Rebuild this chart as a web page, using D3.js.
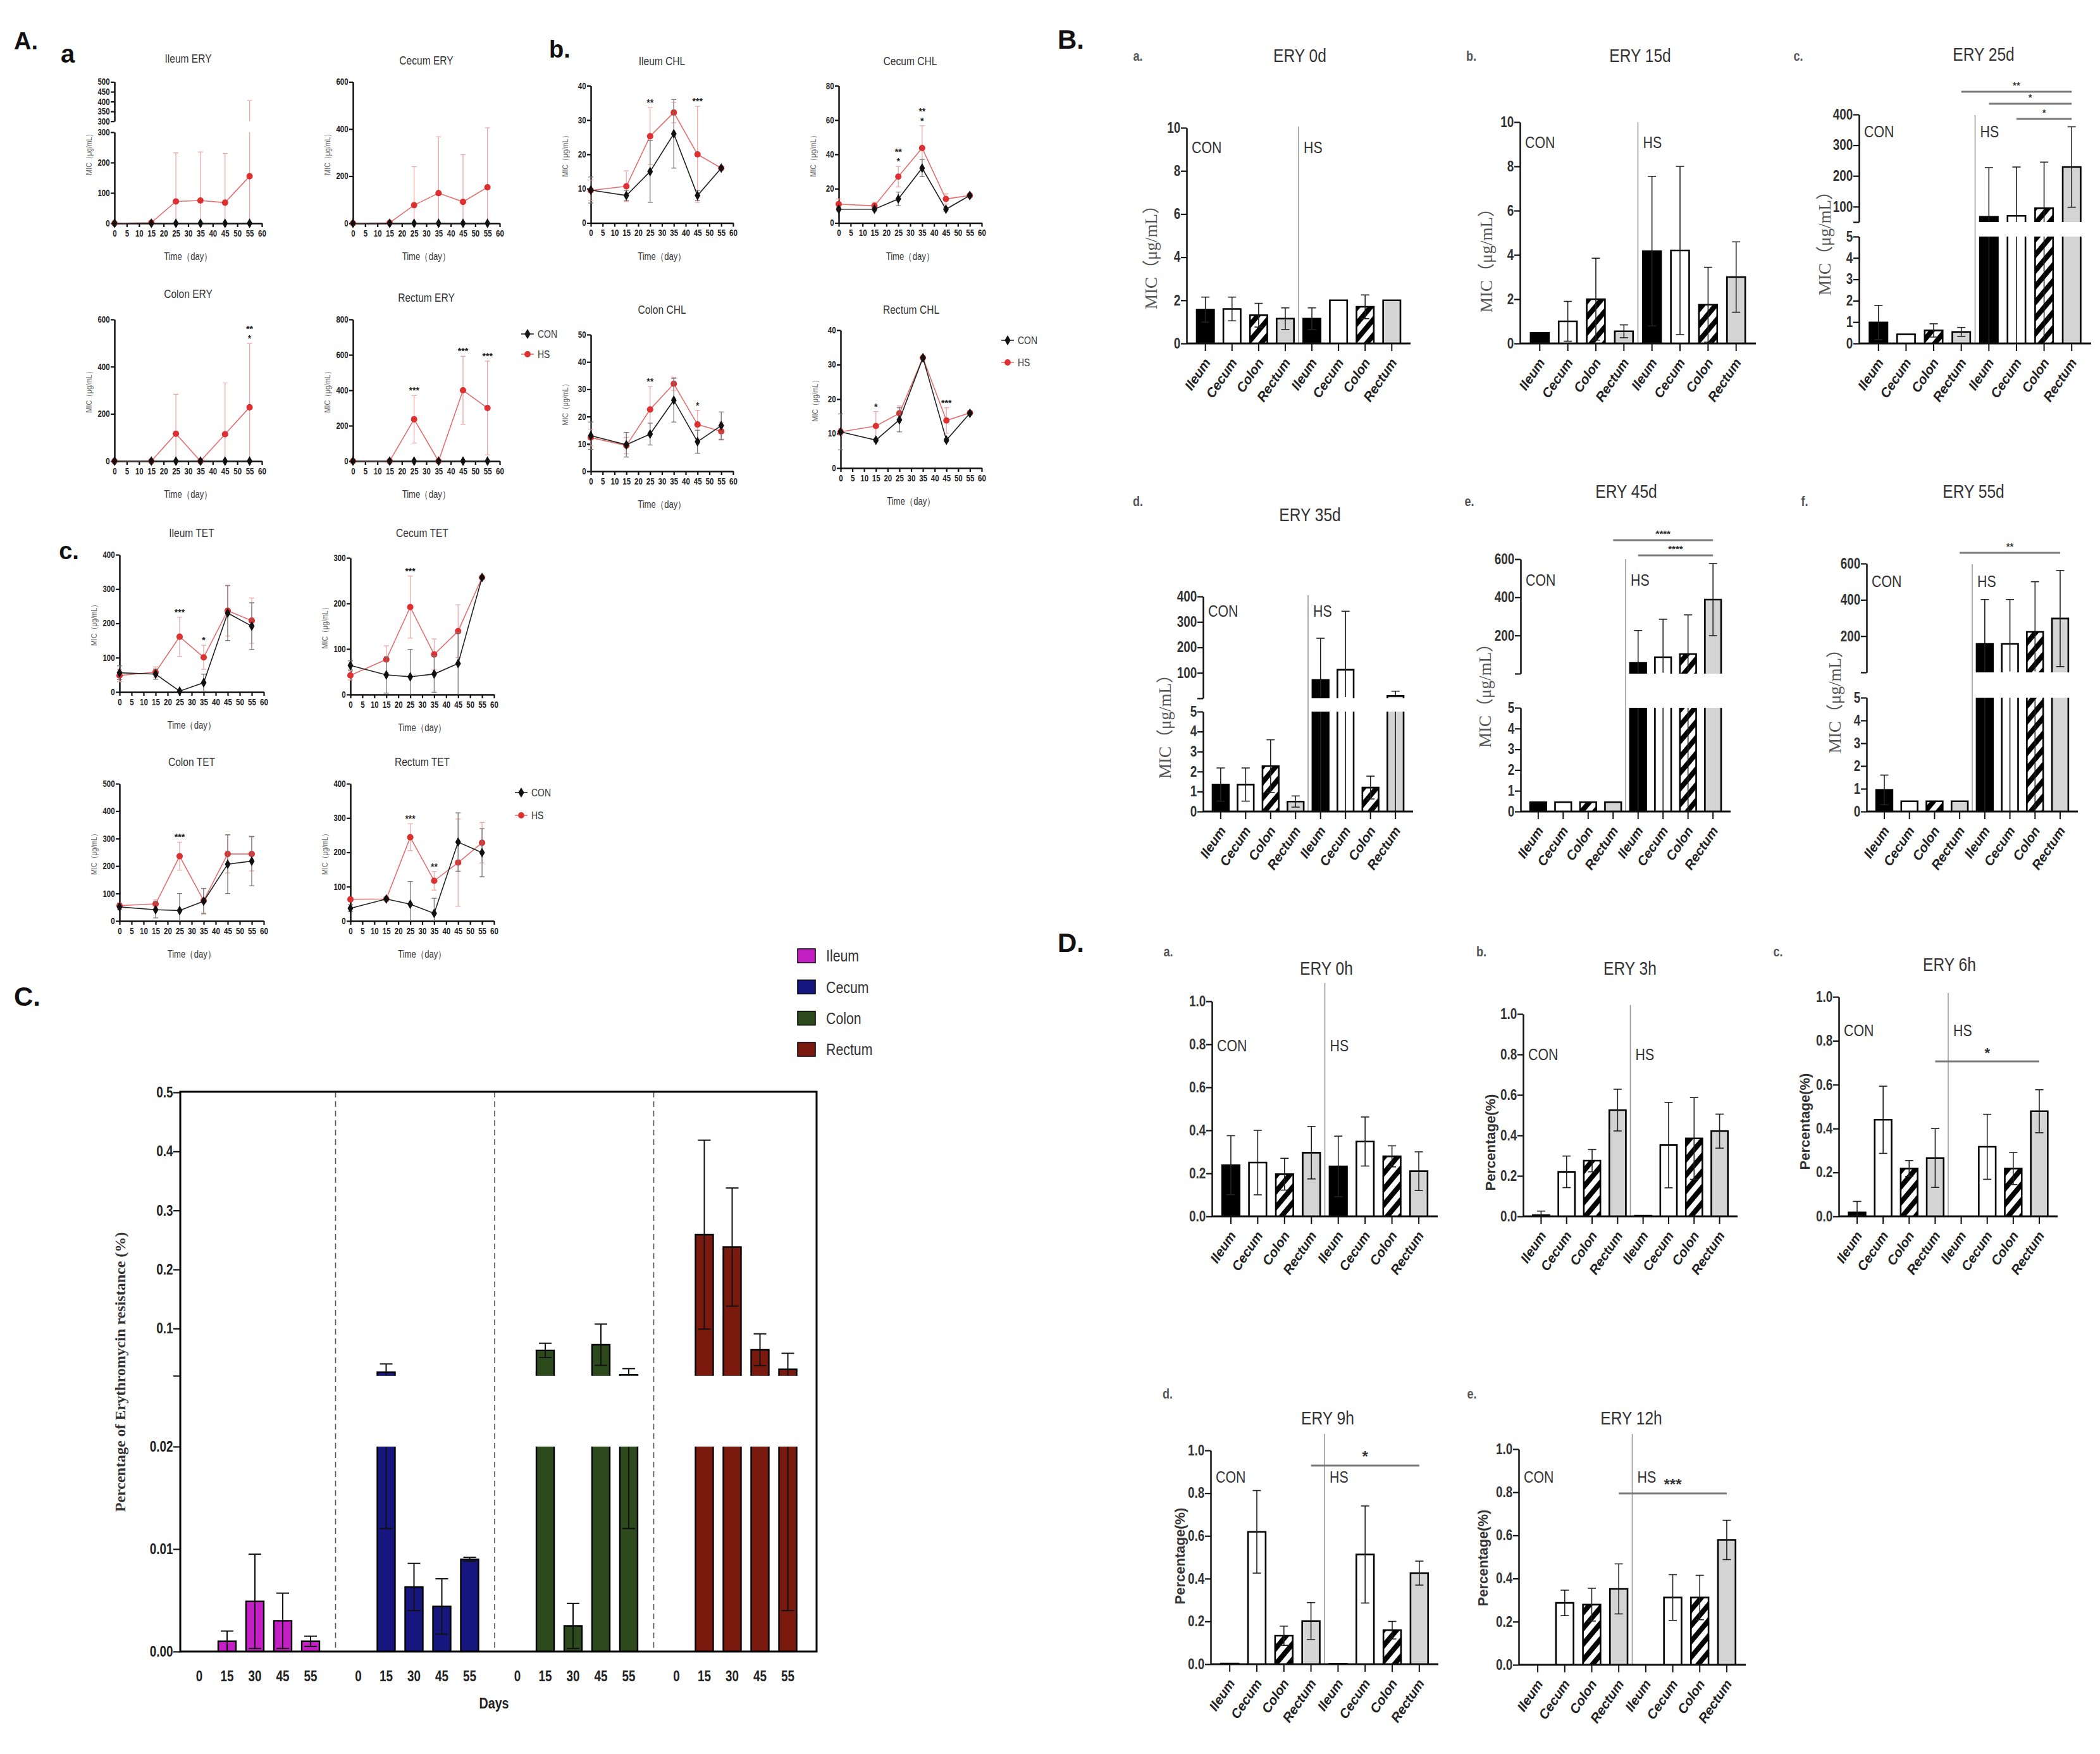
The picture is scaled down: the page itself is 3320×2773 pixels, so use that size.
<!DOCTYPE html>
<html lang="en">
<head>
<meta charset="utf-8">
<script src="https://d3js.org/d3.v7.min.js"></script>
<style>body{margin:0;background:#fff}</style>
</head>
<body>
<script>
// ---------- data ----------
const days = [0, 15, 25, 35, 45, 55];
const dayTicks = [0, 5, 10, 15, 20, 25, 30, 35, 40, 45, 50, 55, 60];

// A.a erythromycin MIC
const eryCon = [0, 0, 0, 0, 0, 0];
const eryConSd = [0, 0, 0, 0, 0, 0];
const ileumEryHs = [0, 2, 72, 75, 68, 155];
const ileumEryHsSd = [0, 3, 160, 160, 162, 250];
const cecumEryHs = [0, 2, 77, 128, 91, 153];
const cecumEryHsSd = [0, 3, 163, 239, 200, 252];
const colonEryHs = [0, 0, 116, 0, 114, 228];
const colonEryHsSd = [0, 0, 167, 0, 217, 270];
const rectumEryHs = [0, 0, 236, 0, 400, 300];
const rectumEryHsSd = [0, 0, 134, 0, 192, 265];
const colonEryStars = [[55, "*"], [55, "**"]];
const rectumEryStars = [[25, "***"], [45, "***"], [55, "***"]];

// A.b chloramphenicol MIC
const ileumChlCon = [9.6, 8, 15, 26, 8, 16];
const ileumChlConSd = [3.8, 1.5, 9, 10, 1.5, 0];
const ileumChlHs = [9.5, 10.7, 25.3, 32.2, 20, 16];
const ileumChlHsSd = [3, 4.5, 8.3, 3, 14, 0];
const ileumChlStars = [[25, "**"], [45, "***"]];
const cecumChlCon = [8, 8, 14, 32, 8, 16];
const cecumChlConSd = [1, 1, 4, 5, 1, 0];
const cecumChlHs = [11, 10, 27, 43.7, 14, 16];
const cecumChlHsSd = [3, 2, 6, 13, 3, 0];
const cecumChlStars = [[25, "*"], [25, "**"], [35, "*"], [35, "**"]];
const colonChlCon = [13, 9.7, 13.6, 26, 10.8, 16.7];
const colonChlConSd = [5, 4.5, 4, 8, 4.2, 5];
const colonChlHs = [12.3, 9.4, 22.6, 32, 17.1, 14.6];
const colonChlHsSd = [3, 3, 8.4, 2.4, 5.2, 3.2];
const colonChlStars = [[25, "**"], [45, "*"]];
const rectumChlCon = [10.5, 8.1, 14, 32, 8.1, 15.9];
const rectumChlConSd = [5.2, 0.5, 3.5, 0, 0.5, 0];
const rectumChlHs = [10.5, 12.2, 15.9, 32, 13.8, 16];
const rectumChlHsSd = [1, 4.2, 2.1, 0, 3.7, 0];
const rectumChlStars = [[15, "*"], [45, "***"]];

// A.c tetracycline MIC
const ileumTetCon = [56, 52, 2.5, 27, 230, 192];
const ileumTetConSd = [20, 15, 0, 25, 80, 68];
const ileumTetHs = [48, 58, 161, 101, 237, 208];
const ileumTetHsSd = [18, 15, 57, 35, 74, 66];
const ileumTetStars = [[25, "***"], [35, "*"]];
const cecumTetCon = [64, 43, 39, 45, 68, 257];
const cecumTetConSd = [10, 40, 60, 40, 68, 0];
const cecumTetHs = [42, 77, 192, 88, 139, 257];
const cecumTetHsSd = [10, 30, 68, 34, 58, 0];
const cecumTetStars = [[25, "***"]];
const colonTetCon = [51, 41, 38, 72, 207, 218];
const colonTetConSd = [10, 30, 62, 46, 107, 90];
const colonTetHs = [56, 62, 236, 74, 244, 244];
const colonTetHsSd = [10, 15, 51, 45, 69, 62];
const colonTetStars = [[25, "***"]];
const rectumTetCon = [37, 64, 49, 22, 230, 199];
const rectumTetConSd = [10, 5, 66, 44, 85, 70];
const rectumTetHs = [63, 64, 244, 117, 170, 228];
const rectumTetHsSd = [5, 5, 39, 27, 127, 59];
const rectumTetStars = [[25, "***"], [35, "**"]];

// line chart y ticks
const ileumEryTicksLow = [0, 100, 200, 300];
const ileumEryTicksHigh = [300, 350, 400, 450, 500];
const eryTicks600 = [0, 200, 400, 600];
const eryTicks800 = [0, 200, 400, 600, 800];
const chlTicks40 = [0, 10, 20, 30, 40];
const chlTicks50 = [0, 10, 20, 30, 40, 50];
const chlTicks80 = [0, 20, 40, 60, 80];
const tetTicks300 = [0, 100, 200, 300];
const tetTicks400 = [0, 100, 200, 300, 400];
const tetTicks500 = [0, 100, 200, 300, 400, 500];

// B / D bar charts: CON Ileum..Rectum, then HS Ileum..Rectum
const organs = ["Ileum", "Cecum", "Colon", "Rectum"];
const barCats = organs.concat(organs);
const ery0d = [1.57, 1.6, 1.31, 1.15, 1.15, 2.0, 1.7, 2.0];
const ery0dSd = [0.58, 0.55, 0.55, 0.5, 0.5, 0, 0.55, 0];
const ery15d = [0.48, 1.0, 2.0, 0.55, 4.17, 4.2, 1.75, 3.0];
const ery15dSd = [0, 0.9, 1.85, 0.29, 3.38, 3.8, 1.69, 1.59];
const ery25d = [0.98, 0.43, 0.61, 0.54, 67, 70, 95, 229];
const ery25dSd = [0.8, 0, 0.31, 0.21, 160, 159, 150, 131];
const ery35d = [1.35, 1.35, 2.27, 0.5, 72, 112, 1.2, 9];
const ery35dSd = [0.83, 0.83, 1.32, 0.28, 164, 230, 0.57, 19];
const ery45d = [0.45, 0.45, 0.45, 0.45, 56, 86, 103, 388];
const ery45dSd = [0, 0, 0, 0, 170, 199, 205, 189];
const ery55d = [0.95, 0.45, 0.45, 0.45, 157, 157, 223, 297];
const ery55dSd = [0.65, 0, 0, 0, 245, 245, 277, 265];
const ery25dSig = [[3, 7, "**"], [4, 7, "*"], [5, 7, "*"]];
const ery45dSig = [[3, 7, "****"], [4, 7, "****"]];
const ery55dSig = [[3, 7, "**"]];

const pct0h = [0.238, 0.25, 0.196, 0.296, 0.232, 0.348, 0.279, 0.21];
const pct0hSd = [0.137, 0.15, 0.074, 0.122, 0.141, 0.114, 0.049, 0.09];
const pct3h = [0.006, 0.22, 0.275, 0.525, 0.003, 0.352, 0.385, 0.421];
const pct3hSd = [0.02, 0.078, 0.055, 0.103, 0, 0.211, 0.202, 0.084];
const pct6h = [0.018, 0.44, 0.218, 0.266, 0, 0.317, 0.218, 0.479];
const pct6hSd = [0.05, 0.153, 0.036, 0.134, 0, 0.148, 0.073, 0.098];
const pct9h = [0.003, 0.619, 0.133, 0.202, 0.002, 0.513, 0.159, 0.426];
const pct9hSd = [0, 0.193, 0.045, 0.086, 0, 0.227, 0.041, 0.056];
const pct12h = [0, 0.287, 0.279, 0.352, 0, 0.312, 0.312, 0.579];
const pct12hSd = [0, 0.059, 0.076, 0.116, 0, 0.106, 0.103, 0.091];
const pct6hSig = [[3, 7, "*"]];
const pct9hSig = [[3, 7, "*"]];
const pct12hSig = [[3, 7, "***"]];

const mic10Ticks = [0, 2, 4, 6, 8, 10];
const mic5Ticks = [0, 1, 2, 3, 4, 5];
const ery25dUpperTicks = [50, 100, 200, 300, 400];
const ery35dUpperTicks = [0, 100, 200, 300, 400];
const ery45dUpperTicks = [0, 200, 400, 600];
const pctTicks = [0, 0.2, 0.4, 0.6, 0.8, 1.0];

// C: percentage of erythromycin resistance
const cDays = ["0", "15", "30", "45", "55"];
const cIleum = [0, 0.001, 0.0049, 0.003, 0.001];
const cIleumSd = [0, 0.001, 0.0046, 0.0027, 0.0005];
const cCecum = [0, 0.026, 0.0063, 0.0044, 0.009];
const cCecumSd = [0, 0.014, 0.0023, 0.0027, 0.0002];
const cColon = [0, 0.063, 0.0025, 0.0725, 0.022];
const cColonSd = [0, 0.012, 0.0022, 0.035, 0.010];
const cRectum = [0, 0.259, 0.238, 0.064, 0.031];
const cRectumSd = [0, 0.16, 0.1, 0.027, 0.027];
const cLowTicks = [0, 0.01, 0.02];
const cLowLabels = ["0.00", "0.01", "0.02"];
const cHighTicks = [0.02, 0.1, 0.2, 0.3, 0.4, 0.5];
const cHighLabels = ["", "0.1", "0.2", "0.3", "0.4", "0.5"];

// ---------- setup ----------
const W = 3320, H = 2773;
const SANS = "'Liberation Sans',Arial,Helvetica,sans-serif";
const NARROW = SANS;          // condensed look is made with a horizontal scale
const SQUEEZE = 0.82;
const SERIF = "'Liberation Serif','Times New Roman','Noto Sans CJK SC',serif";

const svg = d3.select("body").append("svg").attr("width", W).attr("height", H);
svg.append("rect").attr("width", W).attr("height", H).attr("fill", "#fff");

const defs = svg.append("defs");
const hatch = defs.append("pattern").attr("id", "hatch")
  .attr("patternUnits", "userSpaceOnUse").attr("width", 16).attr("height", 16)
  .attr("patternTransform", "rotate(40)");
hatch.append("rect").attr("width", 16).attr("height", 16).attr("fill", "#fff");
hatch.append("rect").attr("width", 8).attr("height", 16).attr("fill", "#000");

// text helper: o.squeeze narrows the glyphs, o.rotate turns the text
function txt(g, x, y, s, o) {
  const k = o.squeeze ? SQUEEZE : 1;
  return g.append("text").text(s)
    .attr("transform", `translate(${x},${y}) rotate(${o.rotate || 0}) scale(${k},1)`)
    .attr("text-anchor", o.anchor || "middle")
    .attr("dominant-baseline", o.base || "central")
    .attr("fill", o.fill || "#222")
    .style("font-family", o.font || SANS)
    .style("font-size", o.size + "px")
    .style("font-weight", o.weight || "normal")
    .style("font-style", o.style || "normal");
}

// piecewise scale for broken axes
function segScale(segs) {
  const sc = segs.map(s => d3.scaleLinear().domain(s.domain).range(s.range));
  const f = v => {
    for (let i = 0; i < segs.length; i++) {
      if (i === segs.length - 1 || v <= segs[i].domain[1]) return sc[i](v);
    }
  };
  f.scales = sc;
  return f;
}

function styleAxis(sel, size, weight, fill) {
  sel.select(".domain").attr("stroke", "#111").attr("stroke-width", 2.5);
  sel.selectAll(".tick line").attr("stroke", "#111").attr("stroke-width", 2.2);
  sel.selectAll(".tick text").attr("fill", fill || "#222")
    .attr("transform", `scale(${SQUEEZE},1)`)
    .style("font-family", SANS).style("font-size", size + "px").style("font-weight", weight);
}

function errBar(g, y, segs, cx, v, sd, cap, color, sw) {
  if (!sd) return;
  const a = Math.max(0, v - sd), b = v + sd;
  segs.forEach((s, k) => {
    const lo = k === 0 ? -Infinity : segs[k - 1].domain[1];
    const hi = k === segs.length - 1 ? Infinity : s.domain[1];
    const p = Math.max(a, lo), q = Math.min(b, hi);
    if (q <= p) return;
    g.append("line").attr("x1", cx).attr("x2", cx)
      .attr("y1", y.scales[k](Math.max(p, s.domain[0]))).attr("y2", y.scales[k](q))
      .attr("stroke", color).attr("stroke-width", sw);
  });
  const capAt = yy => g.append("line").attr("x1", cx - cap / 2).attr("x2", cx + cap / 2)
    .attr("y1", yy).attr("y2", yy).attr("stroke", color).attr("stroke-width", sw);
  capAt(y(b));
  if (v - sd > 0) capAt(y(a));
}

// bar with open edges where it is cut by an axis break
function openBar(g, x, w, yTop, yBot, cut, fill, sw) {
  g.append("rect").attr("x", x).attr("y", yTop).attr("width", w)
    .attr("height", Math.max(0, yBot - yTop)).attr("fill", fill);
  const p = d3.path();
  p.moveTo(x, yBot); p.lineTo(x, yTop);
  if (cut) p.moveTo(x + w, yTop); else p.lineTo(x + w, yTop);
  p.lineTo(x + w, yBot);
  g.append("path").attr("d", p.toString()).attr("fill", "none")
    .attr("stroke", "#000").attr("stroke-width", sw);
}

function segBars(g, y, segs, x, w, v, fill, sw) {
  if (v <= 0) return;
  segs.forEach((s, k) => {
    const lo = k === 0 ? s.domain[0] : segs[k - 1].domain[1];
    if (k > 0 && v <= lo) return;
    const cut = k < segs.length - 1 && v > s.domain[1];
    const top = y.scales[k](Math.min(v, s.domain[1]));
    const bot = y.scales[k](s.domain[0]);
    openBar(g, x, w, top, bot, cut, fill, sw);
  });
}

// ---------- panel A: line charts ----------
const lineLayout = [
  {title: "Ileum ERY", x0: 181, x1: 414, y0: 353, titleY: 92,
   segs: [{domain: [0, 300], range: [353, 209], ticks: ileumEryTicksLow},
          {domain: [300, 500], range: [191.7, 129.5], ticks: ileumEryTicksHigh}],
   con: eryCon, conSd: eryConSd, hs: ileumEryHs, hsSd: ileumEryHsSd, stars: []},
  {title: "Cecum ERY", x0: 558, x1: 790, y0: 353, titleY: 95,
   segs: [{domain: [0, 600], range: [353, 129.5], ticks: eryTicks600}],
   con: eryCon, conSd: eryConSd, hs: cecumEryHs, hsSd: cecumEryHsSd, stars: []},
  {title: "Colon ERY", x0: 181, x1: 414, y0: 729, titleY: 464,
   segs: [{domain: [0, 600], range: [729, 505], ticks: eryTicks600}],
   con: eryCon, conSd: eryConSd, hs: colonEryHs, hsSd: colonEryHsSd, stars: colonEryStars},
  {title: "Rectum ERY", x0: 558, x1: 790, y0: 729, titleY: 470,
   segs: [{domain: [0, 800], range: [729, 505], ticks: eryTicks800}],
   con: eryCon, conSd: eryConSd, hs: rectumEryHs, hsSd: rectumEryHsSd, stars: rectumEryStars},
  {title: "Ileum CHL", x0: 934, x1: 1159, y0: 352.5, titleY: 96,
   segs: [{domain: [0, 40], range: [352.5, 135.6], ticks: chlTicks40}],
   con: ileumChlCon, conSd: ileumChlConSd, hs: ileumChlHs, hsSd: ileumChlHsSd, stars: ileumChlStars},
  {title: "Cecum CHL", x0: 1326, x1: 1552, y0: 352.5, titleY: 96,
   segs: [{domain: [0, 80], range: [352.5, 135.6], ticks: chlTicks80}],
   con: cecumChlCon, conSd: cecumChlConSd, hs: cecumChlHs, hsSd: cecumChlHsSd, stars: cecumChlStars},
  {title: "Colon CHL", x0: 934, x1: 1159, y0: 745, titleY: 489,
   segs: [{domain: [0, 50], range: [745, 529], ticks: chlTicks50}],
   con: colonChlCon, conSd: colonChlConSd, hs: colonChlHs, hsSd: colonChlHsSd, stars: colonChlStars},
  {title: "Rectum CHL", x0: 1329, x1: 1552, y0: 740, titleY: 489,
   segs: [{domain: [0, 40], range: [740, 522], ticks: chlTicks40}],
   con: rectumChlCon, conSd: rectumChlConSd, hs: rectumChlHs, hsSd: rectumChlHsSd, stars: rectumChlStars},
  {title: "Ileum TET", x0: 189, x1: 417, y0: 1094, titleY: 842,
   segs: [{domain: [0, 400], range: [1094, 877], ticks: tetTicks400}],
   con: ileumTetCon, conSd: ileumTetConSd, hs: ileumTetHs, hsSd: ileumTetHsSd, stars: ileumTetStars},
  {title: "Cecum TET", x0: 554, x1: 781, y0: 1098, titleY: 842,
   segs: [{domain: [0, 300], range: [1098, 882], ticks: tetTicks300}],
   con: cecumTetCon, conSd: cecumTetConSd, hs: cecumTetHs, hsSd: cecumTetHsSd, stars: cecumTetStars},
  {title: "Colon TET", x0: 189, x1: 417, y0: 1456, titleY: 1204,
   segs: [{domain: [0, 500], range: [1456, 1239], ticks: tetTicks500}],
   con: colonTetCon, conSd: colonTetConSd, hs: colonTetHs, hsSd: colonTetHsSd, stars: colonTetStars},
  {title: "Rectum TET", x0: 554, x1: 781, y0: 1456, titleY: 1204,
   segs: [{domain: [0, 400], range: [1456, 1239], ticks: tetTicks400}],
   con: rectumTetCon, conSd: rectumTetConSd, hs: rectumTetHs, hsSd: rectumTetHsSd, stars: rectumTetStars}
];

function drawLineChart(c) {
  const g = svg.append("g");
  const x = d3.scaleLinear().domain([0, 60]).range([c.x0, c.x1]);
  const y = segScale(c.segs);
  const yTop = c.segs[c.segs.length - 1].range[1];

  const ax = g.append("g").attr("transform", `translate(0,${c.y0})`)
    .call(d3.axisBottom(x).tickValues(dayTicks).tickSize(6).tickSizeOuter(0).tickPadding(5));
  styleAxis(ax, 14, "bold");
  c.segs.forEach((s, k) => {
    const ay = g.append("g").attr("transform", `translate(${c.x0},0)`)
      .call(d3.axisLeft(y.scales[k]).tickValues(s.ticks).tickSize(6).tickSizeOuter(0).tickPadding(3));
    styleAxis(ay, 14, "bold");
  });

  txt(g, (c.x0 + c.x1) / 2, c.titleY, c.title, {size: 19, fill: "#333", squeeze: true});
  txt(g, (c.x0 + c.x1) / 2, c.y0 + 53, "Time（day）", {size: 16, fill: "#333", squeeze: true});
  txt(g, c.x0 - 40, (c.y0 + yTop) / 2, "MIC（μg/mL）", {size: 13, fill: "#666", squeeze: true, rotate: -90});

  const series = [
    {m: c.hs, sd: c.hsSd, line: "#e27070", pt: "#dd3030", err: "#f0a6a6", sym: d3.symbolCircle, size: 80},
    {m: c.con, sd: c.conSd, line: "#222", pt: "#111", err: "#777", sym: d3.symbolDiamond, size: 70}
  ];
  series.forEach(s => {
    days.forEach((d, i) => errBar(g, y, c.segs, x(d), s.m[i], s.sd[i], 8, s.err, 1.3));
    g.append("path").datum(s.m)
      .attr("d", d3.line().x((v, i) => x(days[i])).y(v => y(v)))
      .attr("fill", "none").attr("stroke", s.line).attr("stroke-width", 1.6);
    g.selectAll(null).data(s.m).enter().append("path")
      .attr("transform", (v, i) => `translate(${x(days[i])},${y(v)})`)
      .attr("d", d3.symbol().type(s.sym).size(s.size))
      .attr("fill", s.pt);
  });

  // significance stars, stacked above the highest error bar of that day
  const stackCount = {};
  c.stars.forEach(([d, label]) => {
    const i = days.indexOf(d);
    const top = Math.max(c.hs[i] + c.hsSd[i], c.con[i] + c.conSd[i]);
    const n = stackCount[d] || 0;
    stackCount[d] = n + 1;
    txt(g, x(d), y(top) - 8 - n * 15, label, {size: 14, weight: "bold", fill: "#222"});
  });
}
lineLayout.forEach(drawLineChart);

function lineLegend(x, y, gap) {
  const g = svg.append("g");
  [["CON", "#222", "#111", d3.symbolDiamond], ["HS", "#e27070", "#dd3030", d3.symbolCircle]].forEach(([lab, lc, pc, sym], i) => {
    const yy = y + i * gap;
    g.append("line").attr("x1", x - 10).attr("x2", x + 10).attr("y1", yy).attr("y2", yy)
      .attr("stroke", lc).attr("stroke-width", 1.6);
    g.append("path").attr("transform", `translate(${x},${yy})`)
      .attr("d", d3.symbol().type(sym).size(75)).attr("fill", pc);
    txt(g, x + 16, yy, lab, {size: 17, anchor: "start", fill: "#333", squeeze: true});
  });
}
lineLegend(834, 528, 32);
lineLegend(1593, 538, 35);
lineLegend(824, 1253, 36);

// ---------- panels B and D: grouped bar charts ----------
const barFills = ["#000", "#fff", "url(#hatch)", "#d4d4d4"];
const micLabel = "MIC（μg/mL）";
const pctLabel = "Percentage(%)";

const barLayout = [
  {title: "ERY 0d", sub: "a.", subX: 1799, subY: 88, titleX: 2055, titleY: 88,
   x0: 1876, x1: 2230, y0: 543, segs: [{domain: [0, 10], range: [543, 202], ticks: mic10Ticks}],
   sepTop: 200, labelY: 233, ylab: micLabel, ylabX: 1820, ylabY: 400, values: ery0d, sd: ery0dSd, sig: []},
  {title: "ERY 15d", sub: "b.", subX: 2326, subY: 88, titleX: 2593, titleY: 88,
   x0: 2403, x1: 2776, y0: 543, segs: [{domain: [0, 10], range: [543, 193], ticks: mic10Ticks}],
   sepTop: 193, labelY: 225, ylab: micLabel, ylabX: 2350, ylabY: 405, values: ery15d, sd: ery15dSd, sig: []},
  {title: "ERY 25d", sub: "c.", subX: 2843, subY: 88, titleX: 3136, titleY: 86,
   x0: 2939, x1: 3306, y0: 543,
   segs: [{domain: [0, 5], range: [543, 374], ticks: mic5Ticks},
          {domain: [50, 400], range: [351, 181], ticks: ery25dUpperTicks, blankFirst: true}],
   sepTop: 182, labelY: 208, ylab: micLabel, ylabX: 2885, ylabY: 378, values: ery25d, sd: ery25dSd,
   sig: ery25dSig, sigY: [145, 164, 188], sigSize: 15},
  {title: "ERY 35d", sub: "d.", subX: 1799, subY: 792, titleX: 2071, titleY: 814,
   x0: 1902, x1: 2234, y0: 1283,
   segs: [{domain: [0, 5], range: [1283, 1125], ticks: mic5Ticks},
          {domain: [0, 400], range: [1104, 943], ticks: ery35dUpperTicks, blankFirst: true}],
   sepTop: 941, labelY: 966, ylab: micLabel, ylabX: 1842, ylabY: 1142, values: ery35d, sd: ery35dSd, sig: []},
  {title: "ERY 45d", sub: "e.", subX: 2323, subY: 792, titleX: 2571, titleY: 777,
   x0: 2404, x1: 2736, y0: 1283,
   segs: [{domain: [0, 5], range: [1283, 1119], ticks: mic5Ticks},
          {domain: [0, 600], range: [1065, 884], ticks: ery45dUpperTicks, blankFirst: true}],
   sepTop: 884, labelY: 917, ylab: micLabel, ylabX: 2348, ylabY: 1093, values: ery45d, sd: ery45dSd,
   sig: ery45dSig, sigY: [854, 878], sigSize: 15},
  {title: "ERY 55d", sub: "f.", subX: 2853, subY: 792, titleX: 3120, titleY: 777,
   x0: 2951, x1: 3285, y0: 1283,
   segs: [{domain: [0, 5], range: [1283, 1103], ticks: mic5Ticks},
          {domain: [0, 600], range: [1063, 891], ticks: ery45dUpperTicks, blankFirst: true}],
   sepTop: 892, labelY: 919, ylab: micLabel, ylabX: 2901, ylabY: 1102, values: ery55d, sd: ery55dSd,
   sig: ery55dSig, sigY: [874], sigSize: 15},
  {title: "ERY 0h", sub: "a.", subX: 1847, subY: 1504, titleX: 2097, titleY: 1531,
   x0: 1916, x1: 2273, y0: 1923, segs: [{domain: [0, 1], range: [1923, 1583], ticks: pctTicks, pct: true}],
   sepTop: 1554, labelY: 1653, ylab: null, values: pct0h, sd: pct0hSd, sig: []},
  {title: "ERY 3h", sub: "b.", subX: 2342, subY: 1504, titleX: 2577, titleY: 1531,
   x0: 2408, x1: 2747, y0: 1923, segs: [{domain: [0, 1], range: [1923, 1603], ticks: pctTicks, pct: true}],
   sepTop: 1589, labelY: 1667, ylab: pctLabel, ylabX: 2356, ylabY: 1806, values: pct3h, sd: pct3hSd, sig: []},
  {title: "ERY 6h", sub: "c.", subX: 2811, subY: 1504, titleX: 3082, titleY: 1525,
   x0: 2907, x1: 3253, y0: 1923, segs: [{domain: [0, 1], range: [1923, 1576], ticks: pctTicks, pct: true}],
   sepTop: 1570, labelY: 1629, ylab: pctLabel, ylabX: 2853, ylabY: 1773, values: pct6h, sd: pct6hSd,
   sig: pct6hSig, sigY: [1678], sigSize: 22},
  {title: "ERY 9h", sub: "d.", subX: 1846, subY: 2203, titleX: 2099, titleY: 2242,
   x0: 1914, x1: 2274, y0: 2631, segs: [{domain: [0, 1], range: [2631, 2293], ticks: pctTicks, pct: true}],
   sepTop: 2267, labelY: 2335, ylab: pctLabel, ylabX: 1865, ylabY: 2460, values: pct9h, sd: pct9hSd,
   sig: pct9hSig, sigY: [2317], sigSize: 24},
  {title: "ERY 12h", sub: "e.", subX: 2327, subY: 2203, titleX: 2579, titleY: 2242,
   x0: 2401, x1: 2760, y0: 2632, segs: [{domain: [0, 1], range: [2632, 2291], ticks: pctTicks, pct: true}],
   sepTop: 2267, labelY: 2335, ylab: pctLabel, ylabX: 2344, ylabY: 2463, values: pct12h, sd: pct12hSd,
   sig: pct12hSig, sigY: [2361], sigSize: 24}
];

function drawBarChart(c) {
  const g = svg.append("g");
  const y = segScale(c.segs);
  const x = d3.scaleBand().domain(d3.range(barCats.length)).range([c.x0, c.x1])
    .paddingInner(0.35).paddingOuter(0.38);
  const bw = x.bandwidth();
  const cx = i => x(i) + bw / 2;

  // separator between CON and HS
  const sx = (cx(3) + cx(4)) / 2;
  g.append("line").attr("x1", sx).attr("x2", sx).attr("y1", c.sepTop).attr("y2", c.y0)
    .attr("stroke", "#9a9a9a").attr("stroke-width", 1.6);

  c.values.forEach((v, i) => segBars(g, y, c.segs, x(i), bw, v, barFills[i % 4], 2.6));
  c.values.forEach((v, i) => errBar(g, y, c.segs, cx(i), v, c.sd[i], 13, "#222", 1.6));

  // y axis segments
  c.segs.forEach((s, k) => {
    const fmt = s.pct ? d3.format(".1f") : (d, i) => (s.blankFirst && i === 0 ? "" : d);
    const ay = g.append("g").attr("transform", `translate(${c.x0},0)`)
      .call(d3.axisLeft(y.scales[k]).tickValues(s.ticks).tickFormat(fmt)
        .tickSize(9).tickSizeOuter(0).tickPadding(3));
    styleAxis(ay, 23, "bold", "#333");
  });

  // x axis
  g.append("line").attr("x1", c.x0).attr("x2", c.x1).attr("y1", c.y0).attr("y2", c.y0)
    .attr("stroke", "#111").attr("stroke-width", 3);
  barCats.forEach((lab, i) => {
    g.append("line").attr("x1", cx(i)).attr("x2", cx(i)).attr("y1", c.y0).attr("y2", c.y0 + 12)
      .attr("stroke", "#111").attr("stroke-width", 2);
    txt(g, cx(i) + 9, c.y0 + 30, lab,
      {size: 21, weight: "bold", style: "italic", anchor: "end", base: "auto", fill: "#222", rotate: -56});
  });

  txt(g, c.x0 + 8, c.labelY, "CON", {size: 26, anchor: "start", fill: "#333", squeeze: true});
  txt(g, sx + 8, c.labelY, "HS", {size: 26, anchor: "start", fill: "#333", squeeze: true});
  txt(g, c.titleX, c.titleY, c.title, {size: 30, fill: "#333", squeeze: true});
  txt(g, c.subX, c.subY, c.sub, {size: 22, weight: "bold", fill: "#555", squeeze: true});
  if (c.ylab) {
    const o = c.ylab === micLabel
      ? {font: SERIF, size: 27, fill: "#555", rotate: -90}
      : {size: 22, weight: "bold", fill: "#333", rotate: -90};
    txt(g, c.ylabX, c.ylabY, c.ylab, o);
  }

  // significance brackets
  c.sig.forEach(([a, b, lab], k) => {
    const yy = c.sigY[k];
    g.append("line").attr("x1", cx(a)).attr("x2", cx(b)).attr("y1", yy).attr("y2", yy)
      .attr("stroke", "#7a7a7a").attr("stroke-width", 3);
    txt(g, (cx(a) + cx(b)) / 2, yy - 4 - c.sigSize * 0.45, lab, {size: c.sigSize, weight: "bold", fill: "#333"});
  });
}
barLayout.forEach(drawBarChart);

// ---------- panel C ----------
function drawPanelC() {
  const g = svg.append("g");
  const L = 285, R = 1291, T = 1726, B = 2611;
  const segs = [
    {domain: [0, 0.02], range: [2611, 2287], ticks: cLowTicks, labels: cLowLabels},
    {domain: [0.02, 0.5], range: [2175, 1727], ticks: cHighTicks, labels: cHighLabels}
  ];
  const y = segScale(segs);
  const gx = d3.scaleBand().domain(organs).range([L, R]);
  const dx = d3.scalePoint().domain(cDays).range([30, 206]);
  const bw = 28;
  const series = [cIleum, cCecum, cColon, cRectum];
  const sds = [cIleumSd, cCecumSd, cColonSd, cRectumSd];
  const colors = ["#c41fc4", "#16167e", "#2c4a1c", "#7a1a0e"];

  organs.slice(1).forEach(o => {
    const xx = gx(o) - 6;
    g.append("line").attr("x1", xx).attr("x2", xx).attr("y1", T).attr("y2", B)
      .attr("stroke", "#555").attr("stroke-width", 1.6).attr("stroke-dasharray", "9,6");
  });

  series.forEach((vals, gi) => {
    vals.forEach((v, di) => {
      const c0 = gx(organs[gi]) + dx(cDays[di]);
      segBars(g, y, segs, c0 - bw / 2, bw, v, colors[gi], 2.4);
    });
  });
  series.forEach((vals, gi) => {
    vals.forEach((v, di) => {
      const c0 = gx(organs[gi]) + dx(cDays[di]);
      errBar(g, y, segs, c0, v, sds[gi][di], 20, "#111", 2);
    });
  });

  segs.forEach((s, k) => {
    const ay = g.append("g").attr("transform", `translate(${L},0)`)
      .call(d3.axisLeft(y.scales[k]).tickValues(s.ticks).tickFormat((d, i) => s.labels[i])
        .tickSize(11).tickSizeOuter(0).tickPadding(3));
    ay.select(".domain").remove();
    styleAxis(ay, 23, "bold", "#222");
  });

  g.append("rect").attr("x", L).attr("y", T).attr("width", R - L).attr("height", B - T)
    .attr("fill", "none").attr("stroke", "#000").attr("stroke-width", 3);

  organs.forEach(o => cDays.forEach(d => {
    txt(g, gx(o) + dx(d), 2650, d, {size: 23, weight: "bold", fill: "#222", squeeze: true});
  }));
  txt(g, 781, 2693, "Days", {size: 24, weight: "bold", fill: "#222", squeeze: true});
  txt(g, 190, 2169, "Percentage of Erythromycin resistance (%)",
    {font: SERIF, size: 24, weight: "bold", fill: "#333", rotate: -90});

  // legend
  const ly = d3.scalePoint().domain(organs).range([1511, 1659]);
  organs.forEach((o, i) => {
    g.append("rect").attr("x", 1261).attr("y", ly(o) - 11).attr("width", 28).attr("height", 22)
      .attr("fill", colors[i]).attr("stroke", "#000").attr("stroke-width", 1.5);
    txt(g, 1306, ly(o), o, {size: 26, anchor: "start", fill: "#333", squeeze: true});
  });
}
drawPanelC();

// ---------- panel letters ----------
const letters = svg.append("g");
txt(letters, 41, 65, "A.", {size: 38, weight: "bold", fill: "#111"});
txt(letters, 107, 85, "a", {size: 40, weight: "bold", fill: "#111"});
txt(letters, 885, 78, "b.", {size: 38, weight: "bold", fill: "#111"});
txt(letters, 109, 871, "c.", {size: 38, weight: "bold", fill: "#111"});
txt(letters, 1693, 62, "B.", {size: 42, weight: "bold", fill: "#111"});
txt(letters, 43, 1575, "C.", {size: 42, weight: "bold", fill: "#111"});
txt(letters, 1693, 1490, "D.", {size: 42, weight: "bold", fill: "#111"});
</script>
</body>
</html>
